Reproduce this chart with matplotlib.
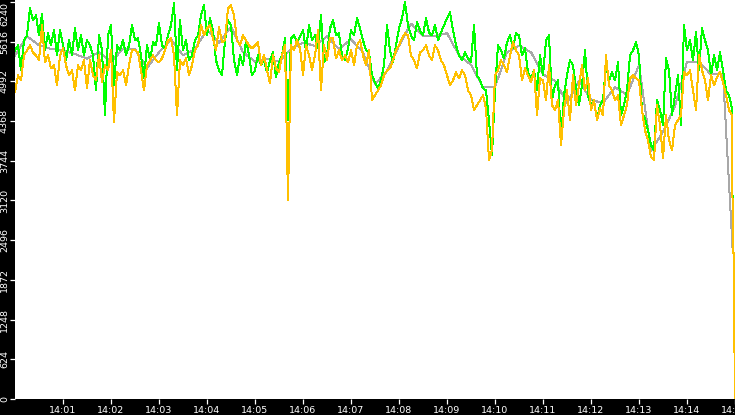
import numpy as np
import matplotlib
matplotlib.use("Agg")
import matplotlib.pyplot as plt

# time step (seconds) between samples of the two dense series, starting 14:00:00
step_s = 3.75

green = [
    5479, 5557, 5165, 5636, 5714, 6138, 5950, 6028, 5714, 6044,
    5479, 5746, 5557, 5793, 5400, 5793, 5557, 5322, 5636, 5400,
    5824, 5479, 5714, 5400, 5636, 5557, 5400, 4851, 5714, 5479,
    4459, 5714, 5871, 4929, 5557, 5479, 5636, 5400, 5557, 5871,
    5636, 5667, 5400, 5039, 5557, 5322, 5605, 5557, 5903, 5557,
    5510, 5714, 5871, 6217, 5165, 5950, 5479, 5636, 5322, 5400,
    5636, 5714, 6028, 6185, 5714, 5981, 5793, 5322, 5165, 5086,
    5636, 5950, 5871, 5322, 5086, 5400, 5243, 5636, 5400, 5086,
    5165, 5400, 5243, 5322, 5134, 5322, 5448, 5055, 5291, 5400,
    5667, 4380, 5667, 5714, 5605, 5699, 5793, 5479, 5871, 5636,
    5714, 5510, 6028, 5291, 5400, 5824, 5950, 5714, 5746, 5400,
    5322, 5510, 5793, 5714, 5981, 5824, 5636, 5479, 5448, 5086,
    4977, 4882, 5008, 5243, 5871, 5479, 5291, 5557, 5824, 5981,
    6233, 5871, 5714, 5636, 5919, 5793, 5714, 5981, 5762, 5714,
    5871, 5636, 5762, 5871, 5981, 6076, 5793, 5557, 5400, 5322,
    5448, 5353, 5291, 5871, 5086, 5008, 4882, 4851, 4380, 3831,
    4851, 5557, 5479, 5353, 5605, 5714, 5510, 5746, 5714, 5400,
    5510, 5134, 5039, 5165, 4851, 5400, 5086, 5636, 5714, 4694,
    4929, 5008, 4066, 4772, 5086, 5322, 5243, 4882, 4616, 4929,
    5479, 4772, 4616, 4694, 4380, 4616, 4694, 5243, 5008, 5134,
    5008, 5291, 4459, 4616, 4851, 5400, 5479, 5605, 5400, 4506,
    4411, 4223, 3988, 3909, 4694, 4537, 4301, 5353, 5165, 4459,
    4772, 5086, 4301, 5871, 5479, 5636, 5322, 5762, 5165, 5824,
    5636, 5479, 5086, 5400, 5165, 5448, 5165, 4851, 4772, 4568,
]

orange = [
    4820, 5086, 5008, 5400, 5479, 5557, 5448, 5400, 5322, 5871,
    5291, 5400, 5196, 5243, 4929, 5400, 5510, 5243, 5086, 5165,
    4851, 5243, 5165, 5322, 4882, 5322, 5086, 5008, 5400, 4977,
    5243, 5165, 5479, 4349, 5134, 5086, 5165, 4929, 5243, 5479,
    5479, 5448, 5165, 4851, 5243, 5322, 5400, 5322, 5291, 5353,
    5479, 5636, 5667, 5400, 4459, 5322, 5243, 5353, 5086, 5243,
    5479, 5557, 5871, 5714, 5824, 5871, 5667, 5479, 5840, 5605,
    5636, 6138, 6185, 6028, 5636, 5557, 5714, 5636, 5557, 5510,
    5557, 5605, 5243, 5400, 5165, 4961, 5400, 5196, 5134, 5400,
    5557, 3130, 5557, 5479, 5636, 5510, 5086, 5557, 5400, 5165,
    5400, 5793, 4851, 5557, 5322, 5667, 5667, 5353, 5479, 5322,
    5400, 5291, 5479, 5243, 5557, 5636, 5400, 5243, 5479, 4694,
    4772, 4851, 4929, 5086, 5165, 5196, 5322, 5479, 5557, 5667,
    5746, 5714, 5400, 5322, 5196, 5448, 5479, 5557, 5400, 5322,
    5557, 5479, 5322, 5243, 5086, 4929, 5008, 5134, 5039, 5165,
    5086, 4851, 4772, 4537, 4616, 4694, 4772, 4568, 3752, 3909,
    5086, 5165, 5322, 5243, 5134, 5400, 5605, 5479, 5400, 5008,
    5196, 5086, 4977, 5165, 4459, 5039, 5008, 4694, 5243, 4616,
    4537, 4694, 3988, 4537, 4851, 4380, 5086, 4616, 4929, 5243,
    4851, 5039, 4537, 4694, 4380, 4568, 4459, 5400, 4929, 4851,
    4694, 4772, 4301, 4459, 4616, 5039, 5086, 5039, 5008, 4537,
    4223, 4066, 3799, 3752, 4616, 4301, 3783, 4459, 4066, 3909,
    4301, 4380, 4459, 5134, 5086, 5165, 4851, 4537, 5400, 5165,
    5008, 4694, 5086, 4929, 5055, 5134, 4977, 4772, 4537, 4459,
]

# gray series, sampled every 15 s
gray_step_s = 15
gray = [
    5400, 5700, 5560, 5500, 5480, 5420, 5350, 5450, 5300, 5500,
    5500, 5200, 5450, 5650, 5400, 5500, 5800, 5600, 5850, 5450,
    5300, 5350, 5300, 5500, 5600, 5550, 5700, 5500, 5650, 5450,
    4950, 5150, 5550, 5900, 5700, 5700, 5750, 5400, 5250, 4900,
    4900, 5450, 5550, 5450, 5100, 5000, 4650, 5000, 4700, 4650,
    4900, 4780, 5250, 3900, 4200, 4600, 5300, 5300, 5100, 5100,
]

# closing samples (seconds after 14:00:00, value) shared by all series
tail_t = [897.3, 898.9, 899.6]
tail_v = [2290, 2290, 0]

y_ticks = [0, 624, 1248, 1872, 2496, 3120, 3744, 4368, 4992, 5616, 6240]
x_tick_labels = ["14:01", "14:02", "14:03", "14:04", "14:05", "14:06", "14:07",
                 "14:08", "14:09", "14:10", "14:11", "14:12", "14:13", "14:14", "14:15"]

W, H = 735, 415
fig = plt.figure(figsize=(W / 100, H / 100), dpi=100, facecolor="black")
ax = fig.add_axes([15 / W, 16 / H, 720 / W, 399 / H])
ax.set_facecolor("white")

t_main = np.arange(len(green)) * step_s
t_gray = np.arange(len(gray)) * gray_step_s

lw = 0.72
ax.plot(np.r_[t_gray, tail_t], np.r_[gray, tail_v], color="#a8a8a8", lw=lw,
        antialiased=False)
ax.plot(np.r_[t_main, tail_t], np.r_[green, tail_v], color="#00ff00", lw=lw,
        antialiased=False)
ax.plot(np.r_[t_main, tail_t], np.r_[orange, tail_v], color="#ffc000", lw=lw,
        antialiased=False)

ax.set_xlim(0, 900)
ax.set_ylim(0, 6270)

ax.set_xticks(np.arange(1, len(x_tick_labels) + 1) * 60)
ax.set_xticklabels(x_tick_labels)
ax.set_yticks(y_ticks)
ax.set_yticklabels([str(v) for v in y_ticks], rotation=90, va="center")

for s in ax.spines.values():
    s.set_visible(False)

ax.tick_params(axis="both", colors="white", labelcolor="white", labelsize=6.8,
               length=3.6, width=0.9, direction="out")
ax.tick_params(axis="y", pad=0.8)
ax.tick_params(axis="x", pad=1.5)

lbls = ax.get_yticklabels()
lbls[-1].set_va("top")

fig.savefig("out.png", dpi=100, facecolor="black")
